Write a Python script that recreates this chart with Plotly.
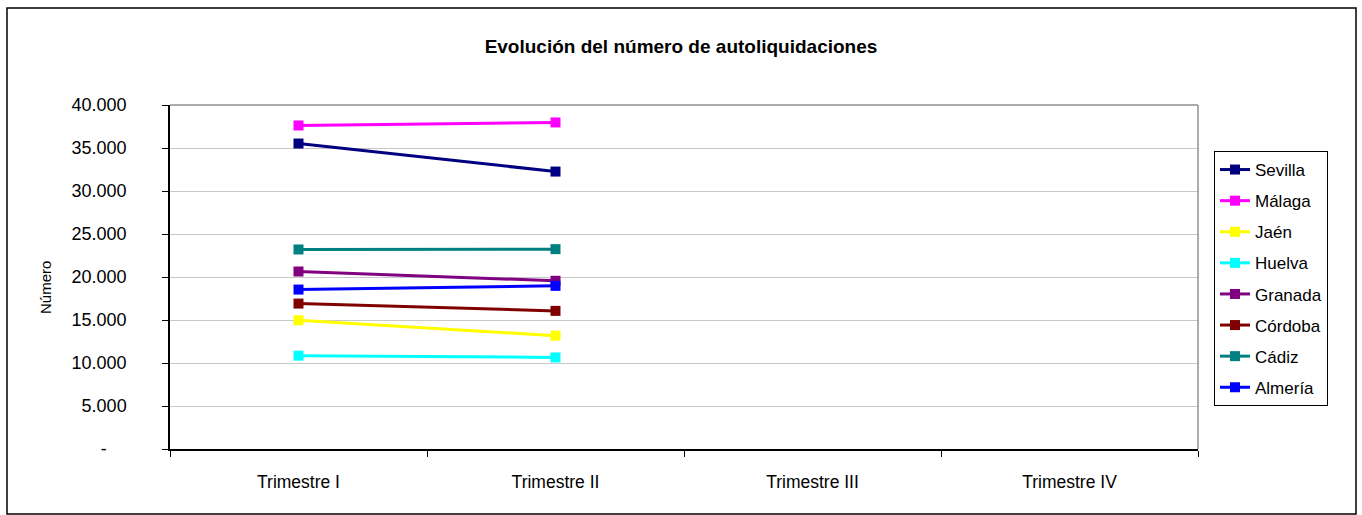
import plotly.graph_objects as go

categories = ["Trimestre I", "Trimestre II", "Trimestre III", "Trimestre IV"]
series_names = ["Sevilla", "Málaga", "Jaén", "Huelva", "Granada", "Córdoba", "Cádiz", "Almería"]
sevilla = [35520, 32260]
malaga = [37620, 37970]
jaen = [14970, 13180]
huelva = [10850, 10650]
granada = [20640, 19560]
cordoba = [16910, 16060]
cadiz = [23200, 23240]
almeria = [18540, 18970]
series_values = [sevilla, malaga, jaen, huelva, granada, cordoba, cadiz, almeria]
colors = ["#000080", "#FF00FF", "#FFFF00", "#00FFFF", "#800080", "#800000", "#008080", "#0000FF"]
y_ticks = [0, 5000, 10000, 15000, 20000, 25000, 30000, 35000, 40000]
y_ticklabels = ["-    " if v == 0 else f"{v:,}".replace(",", ".") for v in y_ticks]

FONT = "Liberation Sans, Arial, sans-serif"

fig = go.Figure()
for name, vals, col in zip(series_names, series_values, colors):
    fig.add_trace(go.Scatter(
        x=categories[:len(vals)], y=vals, name=name, mode="lines+markers",
        line=dict(color=col, width=3),
        marker=dict(symbol="square", size=10, color=col),
        legendgroup=name,
    ))

fig.update_layout(
    width=1362, height=515,
    margin=dict(l=170, r=164, t=105, b=66),
    paper_bgcolor="white", plot_bgcolor="white",
    font=dict(family=FONT, size=17, color="black"),
    title=dict(text="<b>Evolución del número de autoliquidaciones</b>", x=0.5, xanchor="center",
               y=1 - 46 / 515, yanchor="middle", font=dict(size=19, family=FONT)),
    showlegend=True,
    legend=dict(x=(1214 - 170) / 1028, y=(449 - 151) / 344, xanchor="left", yanchor="top",
                bordercolor="black", borderwidth=1, bgcolor="white",
                font=dict(size=17, family=FONT), tracegroupgap=6, traceorder="grouped"),
    xaxis=dict(type="category", categoryorder="array", categoryarray=categories,
               range=[-0.5, 3.5], tickson="boundaries", ticks="outside", ticklen=6,
               tickcolor="black", showline=True, linecolor="black", linewidth=1.5,
               showgrid=False, zeroline=False, tickfont=dict(size=17.5),
               ticklabelstandoff=16),
    yaxis=dict(range=[0, 40000], tickvals=y_ticks, ticktext=y_ticklabels,
               ticks="outside", ticklen=6, tickcolor="black", showline=True,
               linecolor="black", linewidth=1.5, showgrid=True, gridcolor="#c8c8c8",
               gridwidth=1, zeroline=False, tickfont=dict(size=18),
               ticklabelstandoff=32),
    annotations=[
        dict(text="Número", xref="paper", yref="paper", x=(45 - 170) / 1028,
             y=(449 - 288) / 344, xanchor="center", yanchor="middle", textangle=-90,
             showarrow=False, font=dict(size=15, family=FONT)),
    ],
    shapes=[
        dict(type="line", xref="paper", yref="paper", x0=0, x1=1, y0=1, y1=1,
             line=dict(color="#909090", width=1.5)),
        dict(type="line", xref="paper", yref="paper", x0=1, x1=1, y0=0, y1=1,
             line=dict(color="#909090", width=1.5)),
        dict(type="rect", xref="paper", yref="paper",
             x0=(7 - 170) / 1028, x1=(1356 - 170) / 1028,
             y0=(449 - 514) / 344, y1=(449 - 8) / 344,
             line=dict(color="black", width=1.5), layer="below"),
    ],
)

fig.write_html("out.html", config={"displayModeBar": False},
               post_script="document.body.style.margin='0px';document.body.style.padding='0px';")
